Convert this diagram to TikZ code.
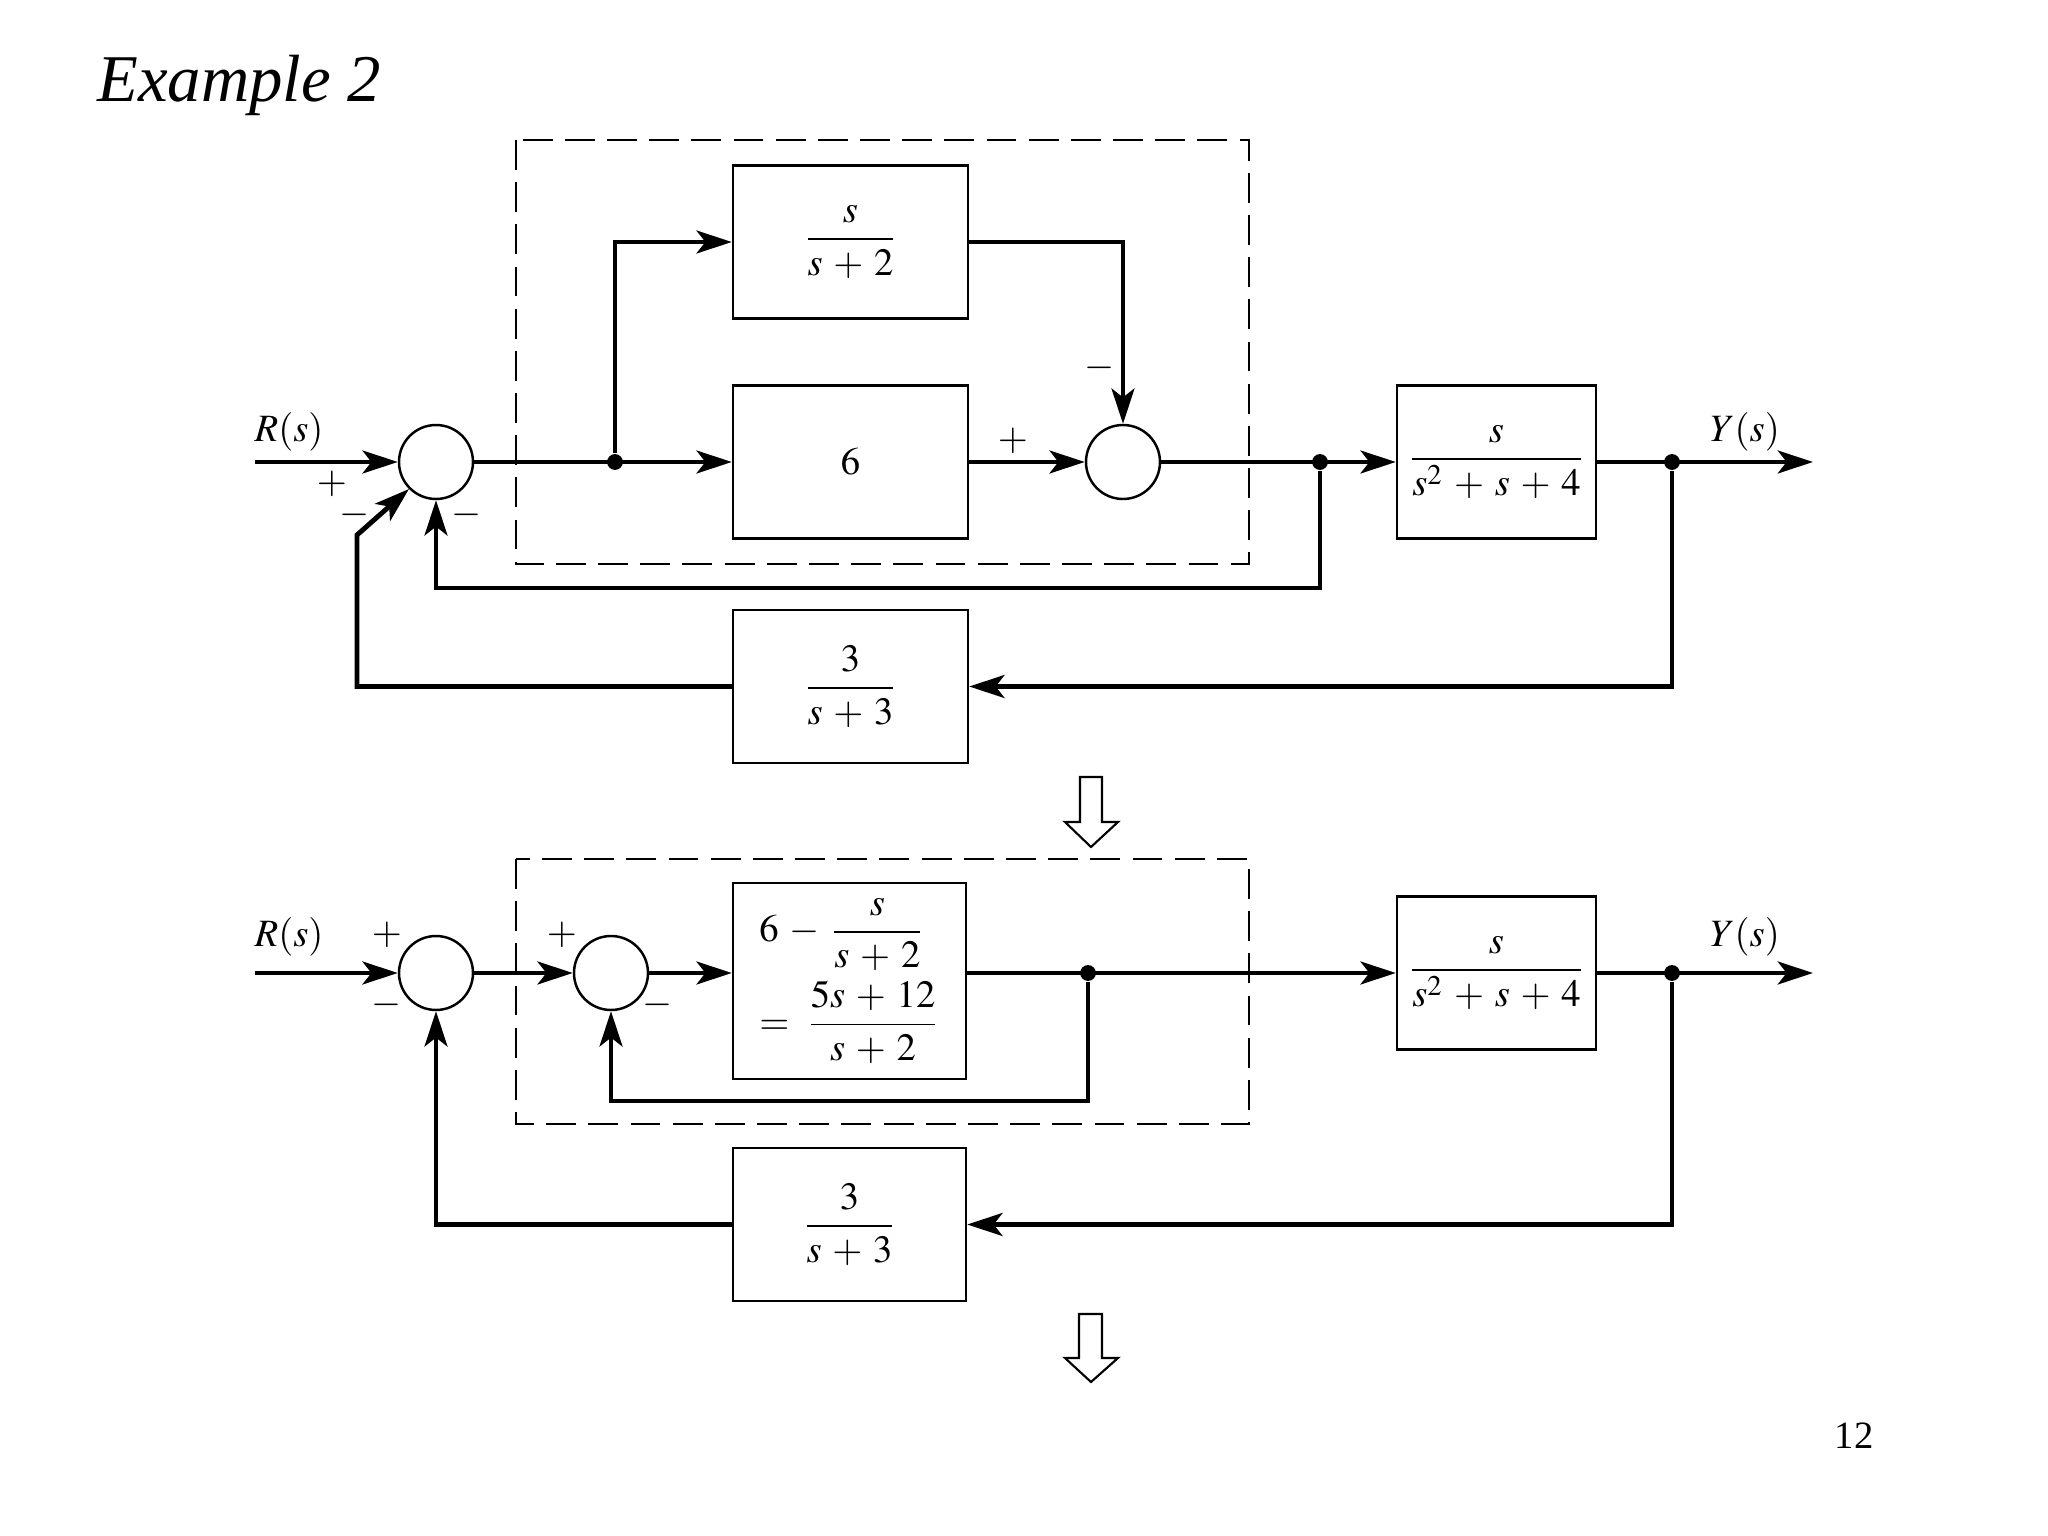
\documentclass[tikz,border=0pt]{standalone}
\usepackage{amsmath}
\usepackage{mathptmx}
\usepackage{fontspec}
\setmainfont{Liberation Serif}
\usetikzlibrary{arrows.meta}
\medmuskip=5mu

\begin{document}
\begin{tikzpicture}[
    font=\fontsize{11}{13}\selectfont,
    >={Stealth[length=10pt,width=6.5pt,inset=2.5pt]},
    sig/.style={line width=1.4pt},
    blk/.style={draw, line width=0.7pt, inner sep=0pt, minimum height=1.53cm},
    sumnode/.style={draw, circle, line width=0.7pt, minimum size=0.74cm, inner sep=0pt},
    dot/.style={circle, fill, inner sep=0pt, minimum size=4.5pt},
    grp/.style={line width=0.6pt, dash pattern=on 8.5pt off 3.5pt},
    sgn/.style={inner sep=0pt},
    hollow/.style={draw, line width=0.6pt, fill=white}
  ]
    \useasboundingbox (0,0) rectangle (20.48,-15.36);

    \node[anchor=base west, font=\fontsize{19}{22}\selectfont\itshape] (title) at (0.85,-1.02) {Example 2};
    \node[anchor=base] (page) at (18.54,-14.48) {12};

    % first diagram
    \draw[grp] (5.16,-1.40) rectangle (12.49,-5.64);
    \coordinate (in1) at (2.55,-4.62);
    \node[sumnode] (a1) at (4.36,-4.62) {};
    \node[dot] (p1) at (6.15,-4.62) {};
    \node[blk, minimum width=2.35cm] (b1) at (8.505,-2.42) {$\dfrac{s}{s+2}$};
    \node[blk, minimum width=2.35cm] (b2) at (8.505,-4.62) {$6$};
    \node[sumnode] (a2) at (11.23,-4.62) {};
    \node[dot] (p2) at (13.20,-4.62) {};
    \node[blk, minimum width=1.99cm] (b3) at (14.965,-4.62) {$\dfrac{s}{s^2+s+4}$};
    \node[dot] (p3) at (16.72,-4.62) {};
    \coordinate (out1) at (18.13,-4.62);
    \node[blk, minimum width=2.35cm] (b4) at (8.505,-6.865) {$\dfrac{3}{s+3}$};
    \coordinate (f1) at (13.20,-5.88);
    \coordinate (k1) at (3.57,-5.35);

    \draw[sig,->] (in1) -- (a1);
    \draw[sig,->] (a1) -- (b2);
    \draw[sig,->] (p1) |- (b1);
    \draw[sig,->] (b1) -| (a2);
    \draw[sig,->] (b2) -- (a2);
    \draw[sig,->] (a2) -- (b3);
    \draw[sig,->] (b3) -- (out1);
    \draw[sig,->] (p2) -- (f1) -| (a1);
    \draw[sig,->] (p3) |- (b4);
    \draw[sig,->] (b4) -| (k1) -- (a1.south west);

    \node[sgn] (s1) at (2.89,-4.32) {$R(s)$};
    \node[sgn] (s2) at (17.45,-4.32) {$Y(s)$};
    \node[sgn] (m1) at (3.32,-4.84) {$+$};
    \node[sgn] (m2) at (3.55,-5.15) {$-$};
    \node[sgn] (m3) at (4.67,-5.15) {$-$};
    \node[sgn] (m4) at (10.13,-4.41) {$+$};
    \node[sgn] (m5) at (11.00,-3.68) {$-$};

    \draw[hollow] (10.80,-7.77) -- (11.02,-7.77) -- (11.02,-8.22) -- (11.18,-8.22) -- (10.91,-8.47) -- (10.65,-8.22) -- (10.80,-8.22) -- cycle;

    % second diagram
    \draw[grp] (5.16,-8.59) rectangle (12.49,-11.24);
    \coordinate (in2) at (2.55,-9.73);
    \node[sumnode] (c1) at (4.36,-9.73) {};
    \node[sumnode] (c2) at (6.11,-9.73) {};
    \node[blk, minimum width=2.33cm, minimum height=1.96cm] (d1) at (8.495,-9.81)
      {$\begin{array}{@{}l@{}}6-\dfrac{s}{s+2}\\[7.5pt] {=}\;\;\dfrac{5s+12}{s+2}\end{array}$};
    \node[dot] (q1) at (10.88,-9.73) {};
    \node[blk, minimum width=1.99cm] (d2) at (14.965,-9.73) {$\dfrac{s}{s^2+s+4}$};
    \node[dot] (q2) at (16.72,-9.73) {};
    \coordinate (out2) at (18.13,-9.73);
    \node[blk, minimum width=2.33cm] (d3) at (8.495,-12.245) {$\dfrac{3}{s+3}$};
    \coordinate (g1) at (10.88,-11.01);

    \draw[sig,->] (in2) -- (c1);
    \draw[sig,->] (c1) -- (c2);
    \draw[sig,->] (c2) -- (c2 -| d1.west);
    \draw[sig,->] (q1 -| d1.east) -- (d2);
    \draw[sig,->] (q1) -- (g1) -| (c2);
    \draw[sig,->] (d2) -- (out2);
    \draw[sig,->] (q2) |- (d3);
    \draw[sig,->] (d3) -| (c1);

    \node[sgn] (s3) at (2.89,-9.37) {$R(s)$};
    \node[sgn] (s4) at (17.45,-9.37) {$Y(s)$};
    \node[sgn] (n1) at (3.87,-9.35) {$+$};
    \node[sgn] (n2) at (3.87,-10.05) {$-$};
    \node[sgn] (n3) at (5.62,-9.35) {$+$};
    \node[sgn] (n4) at (6.58,-10.05) {$-$};

    \draw[hollow] (10.79,-13.14) -- (11.02,-13.14) -- (11.02,-13.58) -- (11.18,-13.58) -- (10.91,-13.82) -- (10.65,-13.58) -- (10.79,-13.58) -- cycle;
\end{tikzpicture}
\end{document}
